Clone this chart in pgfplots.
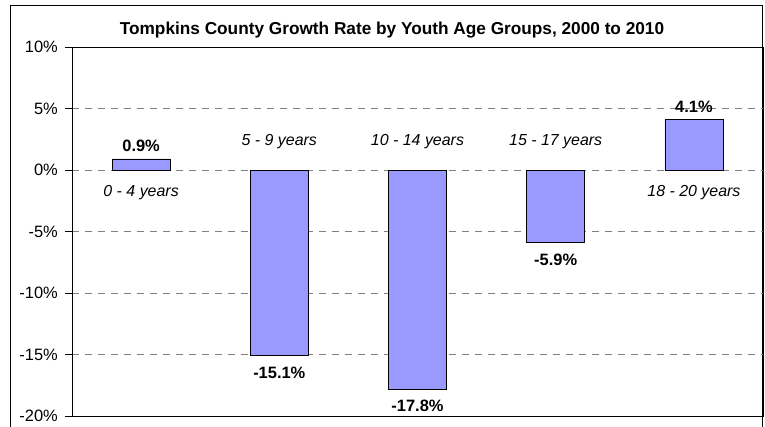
\documentclass[border=0pt]{standalone}
\usepackage{pgfplots}
\pgfplotsset{compat=1.18}
\usepackage{fontspec}
\setmainfont{Liberation Sans}
\definecolor{barblue}{HTML}{9999FF}
\definecolor{gridgray}{HTML}{808080}
\begin{document}
\begin{tikzpicture}[x=1bp,y=1bp]
\useasboundingbox (-72,-10) rectangle (693,416);
\draw[black,line width=0.8bp] (-62,411) rectangle (690,-14);
\node[font=\fontsize{17.3}{19}\selectfont\bfseries] at (320,386) {Tompkins County Growth Rate by Youth Age Groups, 2000 to 2010};
\begin{axis}[
  at={(0,0)}, anchor=south west,
  width=691bp, height=369bp, scale only axis,
  xmin=-0.5, xmax=4.5, ymin=-20, ymax=10,
  xtick=\empty,
  ytick={-20,-15,-10,-5,0,5,10},
  yticklabels={-20\%,-15\%,-10\%,-5\%,0\%,5\%,10\%},
  ytick pos=left, tick align=outside, major tick length=7bp,
  tick style={black, line width=0.6bp},
  yticklabel style={font=\fontsize{16.5}{18}\selectfont, inner sep=0bp, xshift=-7bp},
  ymajorgrids, grid style={gridgray, dashed, dash pattern=on 7bp off 6bp, line width=0.6bp},
  x axis line style={gridgray, line width=0.8bp},
  y axis line style={black, line width=0.8bp},
  ybar, bar width=0.42,
  nodes near coords, point meta=explicit symbolic,
  visualization depends on={y \as \rawy},
  every node near coord/.append style={font=\fontsize{16.5}{18}\selectfont\bfseries, inner sep=7bp,
     anchor={\ifdim\rawy pt<0pt north\else south\fi},
     yshift={\ifdim\rawy pt<0pt -4\else 0\fi}},
  clip=false,
]
\addplot[fill=barblue, draw=black, line width=0.7bp] coordinates {
  (0,0.9) [0.9\%]
  (1,-15.1) [-15.1\%]
  (2,-17.8) [-17.8\%]
  (3,-5.9) [-5.9\%]
  (4,4.1) [4.1\%]
};
\begin{scope}[every node/.style={font=\fontsize{16}{18}\selectfont\itshape}]
\node at (axis cs:0,-1.8) {0 - 4 years};
\node at (axis cs:1,2.3) {5 - 9 years};
\node at (axis cs:2,2.3) {10 - 14 years};
\node at (axis cs:3,2.3) {15 - 17 years};
\node at (axis cs:4,-1.8) {18 - 20 years};
\end{scope}
\end{axis}
\end{tikzpicture}
\end{document}
